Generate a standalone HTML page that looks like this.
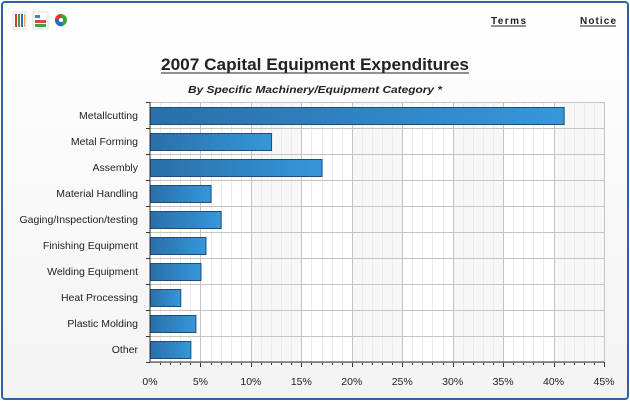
<!DOCTYPE html>
<html><head><style>
body{margin:0;width:630px;height:401px;overflow:hidden;background:#fff;font-family:"Liberation Sans",sans-serif}
</style></head><body>
<svg width="630" height="401" xmlns="http://www.w3.org/2000/svg" font-family="Liberation Sans, sans-serif">
<defs>
<linearGradient id="bg" x1="0" y1="0" x2="0" y2="1"><stop offset="0" stop-color="#ffffff"/><stop offset="1" stop-color="#f3f3f3"/></linearGradient>
<linearGradient id="bar" x1="0" y1="0" x2="1" y2="0"><stop offset="0" stop-color="#2a6fa8"/><stop offset="1" stop-color="#3597da"/></linearGradient>
</defs>
<rect x="2" y="2" width="626" height="397" rx="3" fill="url(#bg)" stroke="#2a64a8" stroke-width="2"/>
<g>
<rect x="13" y="12" width="13" height="17" fill="#fff" stroke="#ddd"/>
<rect x="15" y="14" width="2" height="13" fill="#d33"/><rect x="18" y="14" width="2" height="13" fill="#3a3"/><rect x="21" y="14" width="2" height="13" fill="#36c"/><rect x="24" y="14" width="1" height="13" fill="#ea3"/>
<rect x="33" y="12" width="15" height="17" fill="#fff" stroke="#ddd"/>
<rect x="35" y="15" width="5" height="3" fill="#38c"/><rect x="35" y="20" width="11" height="3" fill="#d44"/><rect x="35" y="24" width="11" height="3" fill="#3a3"/>
<circle cx="61" cy="20" r="6" fill="#3a3"/><path d="M61 20 L61 14 A6 6 0 0 0 55 20Z" fill="#e33"/><path d="M61 20 L55 20 A6 6 0 0 0 63 26Z" fill="#36c"/><circle cx="61" cy="20" r="2" fill="#fff"/>
</g>
<text x="491" y="24" font-size="10" font-weight="bold" fill="#222" textLength="35">Terms</text>
<line x1="491" y1="26" x2="526" y2="26" stroke="#222"/>
<text x="580" y="24" font-size="10" font-weight="bold" fill="#222" textLength="36">Notice</text>
<line x1="580" y1="26" x2="616" y2="26" stroke="#222"/>
<text x="161" y="70" font-size="17" font-weight="bold" fill="#222" textLength="308" lengthAdjust="spacingAndGlyphs">2007 Capital Equipment Expenditures</text>
<line x1="161" y1="73" x2="469" y2="73" stroke="#222"/>
<text x="188" y="93" font-size="10.5" font-weight="bold" font-style="italic" fill="#222" textLength="254" lengthAdjust="spacingAndGlyphs">By Specific Machinery/Equipment Category *</text>
<rect x="150" y="102" width="454" height="260" fill="#fff"/>
<g fill="#f7f7f7">
<rect x="251" y="102" width="50.4" height="260"/><rect x="352" y="102" width="50.4" height="260"/><rect x="453" y="102" width="50.4" height="260"/><rect x="554" y="102" width="50" height="260"/>
</g>
<g id="grid"></g>
<g id="bars"></g>
<g id="labels" font-size="10.5" fill="#222" text-anchor="end"></g>
<g id="xl" font-size="10.5" fill="#222" text-anchor="middle"></g>
<line x1="150" y1="102" x2="150" y2="362" stroke="#333"/>
<line x1="150" y1="362" x2="604" y2="362" stroke="#333"/>
</svg>
<script>
var ns="http://www.w3.org/2000/svg";
function el(p,t,a,txt){var e=document.createElementNS(ns,t);for(var k in a)e.setAttribute(k,a[k]);if(txt)e.textContent=txt;document.getElementById(p).appendChild(e);}
var X=function(v){return 150+v*454/45;};
for(var i=1;i<=45;i++){var x=X(i)+0.5|0;el("grid","line",{x1:x+.5,y1:102,x2:x+.5,y2:362,stroke:i%5?"#eaeaea":"#c4c4c4"});el("grid","line",{x1:x+.5,y1:362,x2:x+.5,y2:i%5?365:367,stroke:"#333"});}
for(var j=0;j<=10;j++){var y=102+j*26;el("grid","line",{x1:150,y1:y+.5,x2:604,y2:y+.5,stroke:"#c4c4c4"});el("grid","line",{x1:146,y1:y+.5,x2:150,y2:y+.5,stroke:"#333"});}
var d=[["Metallcutting",41],["Metal Forming",12],["Assembly",17],["Material Handling",6],["Gaging/Inspection/testing",7],["Finishing Equipment",5.5],["Welding Equipment",5],["Heat Processing",3],["Plastic Molding",4.5],["Other",4]];
d.forEach(function(r,i){var y=102+i*26;el("bars","rect",{x:150.5,y:y+5.5,width:X(r[1])-150,height:17,fill:"url(#bar)",stroke:"#1d4f7a"});el("labels","text",{x:138,y:y+17},r[0]);});
for(var k=0;k<=9;k++)el("xl","text",{x:X(k*5),y:385},(k*5)+"%");
</script>
</body></html>
